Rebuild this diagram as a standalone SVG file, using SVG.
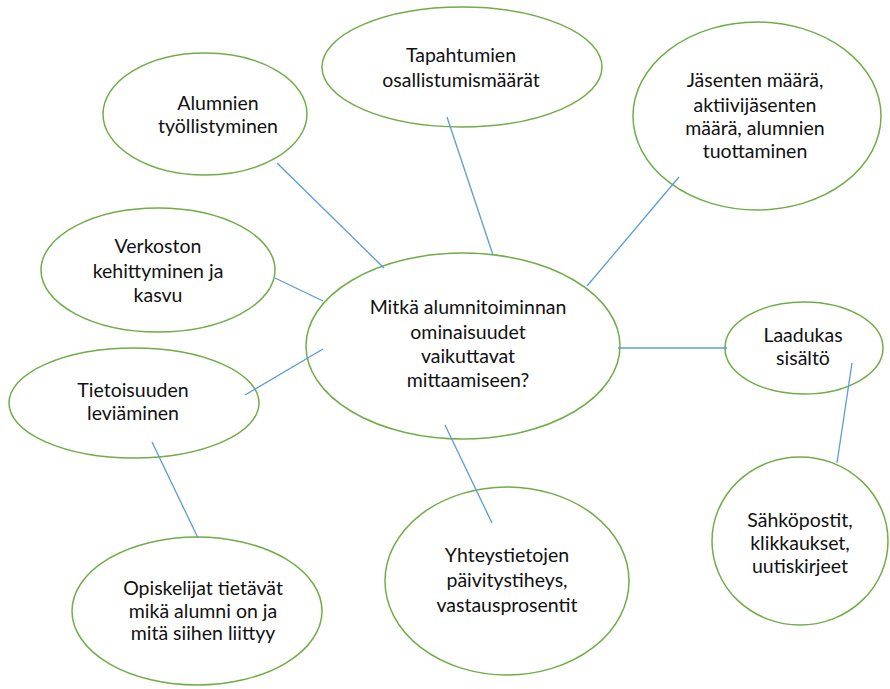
<svg xmlns="http://www.w3.org/2000/svg" width="890" height="689" viewBox="0 0 890 689">
<style>
.n ellipse{fill:#fff;stroke:#70AD47;stroke-width:1.5}
.n text{font-family:Lato,"Open Sans","DejaVu Sans",sans-serif;font-size:19.5px;fill:#111;text-anchor:middle}
#edges line{stroke:#5B9BD5;stroke-width:1.3}
</style>
<rect width="890" height="689" fill="#fff"/>
<g id="n-center" class="n"><ellipse cx="463" cy="346" rx="157" ry="93"/>
<text x="468" y="314">Mitkä alumnitoiminnan</text><text x="468" y="339">ominaisuudet</text><text x="468" y="363">vaikuttavat</text><text x="468" y="387">mittaamiseen?</text></g>
<g id="n-tapahtumien" class="n"><ellipse cx="462" cy="67" rx="140" ry="60"/>
<text x="461" y="62">Tapahtumien</text><text x="461" y="87">osallistumismäärät</text></g>
<g id="n-alumnien" class="n"><ellipse cx="205" cy="114" rx="102" ry="61"/>
<text x="218" y="110">Alumnien</text><text x="218" y="133">työllistyminen</text></g>
<g id="n-jasenten" class="n"><ellipse cx="757" cy="116" rx="124" ry="94"/>
<text x="755" y="87">Jäsenten määrä,</text><text x="755" y="112">aktiivijäsenten</text><text x="755" y="135">määrä, alumnien</text><text x="755" y="158">tuottaminen</text></g>
<g id="n-verkoston" class="n"><ellipse cx="158" cy="270" rx="117" ry="62"/>
<text x="158" y="253">Verkoston</text><text x="158" y="278">kehittyminen ja</text><text x="158" y="302">kasvu</text></g>
<g id="n-tietoisuuden" class="n"><ellipse cx="134" cy="403" rx="125" ry="55"/>
<text x="133" y="397">Tietoisuuden</text><text x="133" y="420">leviäminen</text></g>
<g id="n-opiskelijat" class="n"><ellipse cx="197" cy="611" rx="125" ry="74"/>
<text x="203" y="595">Opiskelijat tietävät</text><text x="203" y="618">mikä alumni on ja</text><text x="203" y="640">mitä siihen liittyy</text></g>
<g id="n-yhteystietojen" class="n"><ellipse cx="507" cy="581" rx="122" ry="94"/>
<text x="507" y="562">Yhteystietojen</text><text x="507" y="587">päivitystiheys,</text><text x="507" y="612">vastausprosentit</text></g>
<g id="n-laadukas" class="n"><ellipse cx="804" cy="348" rx="79" ry="46"/>
<text x="803" y="342">Laadukas</text><text x="803" y="365">sisältö</text></g>
<g id="n-sahkopostit" class="n"><ellipse cx="800" cy="541" rx="88" ry="84"/>
<text x="800" y="527">Sähköpostit,</text><text x="800" y="550">klikkaukset,</text><text x="800" y="573">uutiskirjeet</text></g>
<g id="edges">
<line x1="277" y1="163" x2="384" y2="268"/>
<line x1="447" y1="117" x2="493" y2="255"/>
<line x1="679" y1="177" x2="587" y2="286"/>
<line x1="275" y1="278" x2="323" y2="301"/>
<line x1="245" y1="395" x2="323" y2="349"/>
<line x1="618" y1="348" x2="727" y2="348"/>
<line x1="852" y1="363" x2="837" y2="463"/>
<line x1="445" y1="425" x2="492" y2="523"/>
<line x1="152" y1="442" x2="198" y2="538"/>
</g>
</svg>
